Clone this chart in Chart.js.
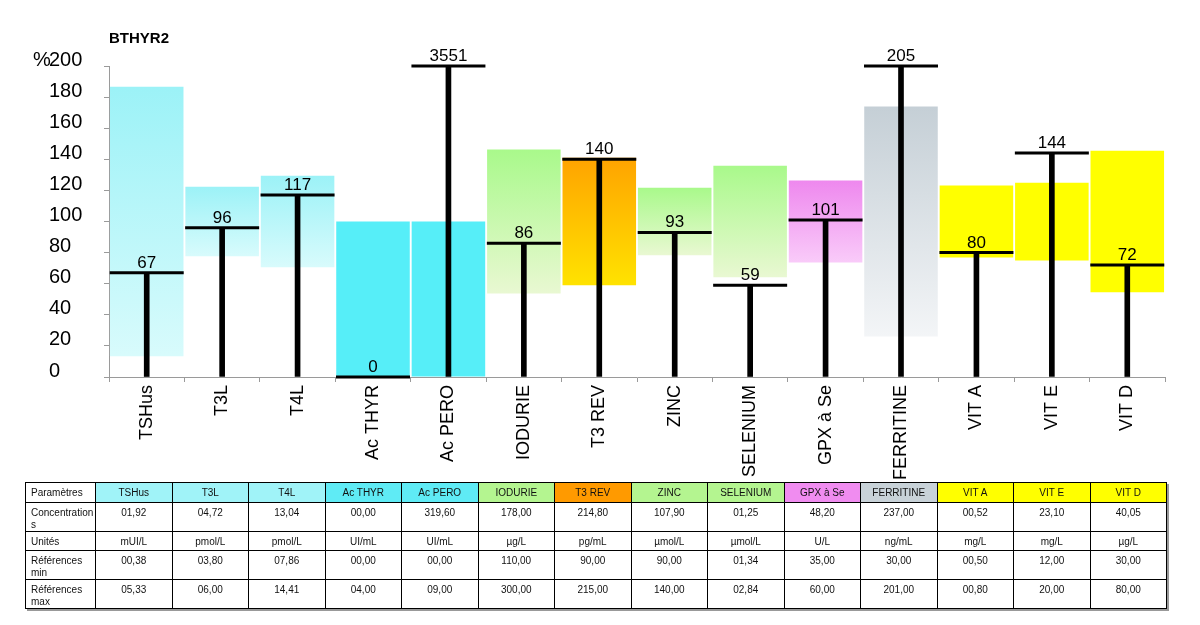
<!DOCTYPE html>
<html>
<head>
<meta charset="utf-8">
<script src="https://cdn.jsdelivr.net/npm/chart.js@4.4.1/dist/chart.umd.min.js"></script>
<style>
  html, body { margin: 0; padding: 0; background: #fff; width: 1200px; height: 625px; overflow: hidden; }
  #wrap { position: absolute; left: 0; top: 0; width: 1200px; height: 490px; }
  #tbl { position: absolute; left: 25px; top: 482px; border-collapse: collapse; table-layout: fixed;
         font-family: "Liberation Sans", Arial, sans-serif; font-size: 10px; color: #111;
         box-shadow: 2px 2px 0 #999; background: #fff; }
  #tbl td { border: 1px solid #000; text-align: center; vertical-align: top; padding: 4px 2px 0 2px;
            line-height: 12px; box-sizing: border-box; overflow: hidden; }
  #tbl td.first { text-align: left; padding-left: 5px; padding-right: 1px; }
  #tbl td.brk { word-break: break-all; }
  #tbl tr.h td { vertical-align: middle; padding-top: 0; }
</style>
</head>
<body>
<div id="wrap"><canvas id="c" width="1200" height="490"></canvas></div>
<table id="tbl"></table>
<script>
// ---- data ----
const categories = ['TSHus','T3L','T4L','Ac THYR','Ac PERO','IODURIE','T3 REV','ZINC','SELENIUM','GPX à Se','FERRITINE','VIT A','VIT E','VIT D'];
const percentValues = [67, 96, 117, 0, 3551, 86, 140, 93, 59, 101, 205, 80, 144, 72];
const rangeMin = [13.3, 77.6, 70.6, 0, 0, 53.7, 59.0, 78.3, 64.1, 73.7, 26.0, 76.9, 75.0, 54.5];
const rangeMax = [186.7, 122.4, 129.4, 100, 100, 146.3, 141.0, 121.7, 135.9, 126.3, 174.0, 123.1, 125.0, 145.5];
const yMin = 0, yMax = 200, yStep = 20;

const rowLabels = ['Paramètres', 'Concentrations', 'Unités', 'Références min', 'Références max'];
const concentrations = ['01,92','04,72','13,04','00,00','319,60','178,00','214,80','107,90','01,25','48,20','237,00','00,52','23,10','40,05'];
const units = ['mUI/L','pmol/L','pmol/L','UI/mL','UI/mL','µg/L','pg/mL','µmol/L','µmol/L','U/L','ng/mL','mg/L','mg/L','µg/L'];
const refMin = ['00,38','03,80','07,86','00,00','00,00','110,00','90,00','90,00','01,34','35,00','30,00','00,50','12,00','30,00'];
const refMax = ['05,33','06,00','14,41','04,00','09,00','300,00','215,00','140,00','02,84','60,00','201,00','00,80','20,00','80,00'];

// ---- styles ----
const barTop    = ['#9cf2f7','#9cf2f7','#9cf2f7','#56eef8','#56eef8','#a9f98b','#ffa300','#a9f98b','#a9f98b','#ee88ee','#c5cfd6','#ffff00','#ffff00','#ffff00'];
const barBottom = ['#d8fbfc','#d8fbfc','#d8fbfc','#56eef8','#56eef8','#e9f8d2','#ffe300','#e9f8d2','#e9f8d2','#f9cbf9','#f3f5f7','#ffff00','#ffff00','#ffff00'];
const headColors = ['#a0f3f8','#a0f3f8','#a0f3f8','#5febf5','#5febf5','#b4f590','#ff9a00','#b4f590','#b4f590','#f08cf0','#c8d2d8','#ffff00','#ffff00','#ffff00'];

const shown = percentValues.map(v => Math.min(v, yMax));
const FONT = '"Liberation Sans", Arial, sans-serif';

const labelPlugin = {
  id: 'valueLabels',
  afterDatasetsDraw(chart) {
    const ctx = chart.ctx, xs = chart.scales.x, ys = chart.scales.y;
    ctx.save();
    ctx.fillStyle = '#000';
    ctx.font = '17px ' + FONT;
    ctx.textAlign = 'center';
    ctx.textBaseline = 'alphabetic';
    percentValues.forEach((v, i) => {
      ctx.fillText(String(v), xs.getPixelForValue(i), ys.getPixelForValue(shown[i]) - 5);
    });
    ctx.font = '20px ' + FONT;
    ctx.textAlign = 'left';
    ctx.textBaseline = 'middle';
    ctx.fillText('%', 33, ys.getPixelForValue(yMax) - 6);
    ctx.restore();
  }
};

new Chart(document.getElementById('c'), {
  type: 'bar',
  data: {
    labels: categories,
    datasets: [
      {
        label: 'range',
        data: rangeMin.map((m, i) => [m, rangeMax[i]]),
        grouped: false,
        categoryPercentage: 1,
        barPercentage: 0.975,
        order: 3,
        borderWidth: 0,
        backgroundColor: (c) => {
          const chart = c.chart, i = c.dataIndex;
          if (i === undefined) return barTop[0];
          const ys = chart.scales.y;
          if (!chart.chartArea || !ys) return barTop[i];
          const y0 = ys.getPixelForValue(rangeMax[i]), y1 = ys.getPixelForValue(rangeMin[i]);
          if (!isFinite(y0) || !isFinite(y1) || y0 === y1) return barTop[i];
          const g = chart.ctx.createLinearGradient(0, y0, 0, y1);
          g.addColorStop(0, barTop[i]);
          g.addColorStop(1, barBottom[i]);
          return g;
        }
      },
      {
        label: 'stem',
        data: shown,
        grouped: false,
        barThickness: 5,
        backgroundColor: '#000',
        order: 2
      },
      {
        type: 'line',
        label: 'cap',
        data: shown,
        showLine: false,
        pointStyle: 'line',
        pointRadius: 37,
        pointHoverRadius: 37,
        pointBorderWidth: 3,
        borderColor: '#000',
        backgroundColor: '#000',
        clip: false,
        order: 1
      }
    ]
  },
  options: {
    responsive: false,
    animation: false,
    layout: { autoPadding: false, padding: { top: 30, right: 35, left: 49, bottom: 0 } },
    plugins: {
      legend: { display: false },
      tooltip: { enabled: false },
      title: {
        display: true, text: 'BTHYR2', align: 'start', fullSize: false, color: '#000',
        font: { family: FONT, size: 15, weight: 'bold' },
        padding: { top: 0, bottom: 18 }
      }
    },
    scales: {
      x: {
        offset: true,
        grid: { display: true, drawOnChartArea: false, offset: true, tickLength: 5, color: '#9a9a9a' },
        border: { color: '#9a9a9a' },
        ticks: { maxRotation: 90, minRotation: 90, padding: 3, color: '#000', font: { family: FONT, size: 18 } },
        afterFit: (s) => { s.height = 113; s.paddingLeft = 0; s.paddingRight = 0; }
      },
      y: {
        min: yMin, max: yMax,
        grid: { display: true, drawOnChartArea: false, tickLength: 5, color: '#9a9a9a' },
        border: { color: '#9a9a9a' },
        ticks: { stepSize: yStep, padding: 22, crossAlign: 'far', labelOffset: -6, color: '#000', font: { family: FONT, size: 20 } },
        afterFit: (s) => { s.width = 60; }
      }
    }
  },
  plugins: [labelPlugin]
});

// ---- table ----
(function buildTable() {
  const t = document.getElementById('tbl');
  const cg = document.createElement('colgroup');
  const c0 = document.createElement('col'); c0.style.width = '70px'; cg.appendChild(c0);
  categories.forEach(() => { const c = document.createElement('col'); c.style.width = '76.5px'; cg.appendChild(c); });
  t.appendChild(cg);
  const rows = [categories, concentrations, units, refMin, refMax];
  const heights = [20, 28, 19, 29, 29];
  rows.forEach((r, ri) => {
    const tr = document.createElement('tr');
    if (ri === 0) tr.className = 'h';
    tr.style.height = heights[ri] + 'px';
    const th = document.createElement('td');
    th.className = ri === 1 ? 'first brk' : 'first';
    th.textContent = rowLabels[ri];
    tr.appendChild(th);
    r.forEach((v, ci) => {
      const td = document.createElement('td');
      td.textContent = v;
      if (ri === 0) td.style.background = headColors[ci];
      tr.appendChild(td);
    });
    t.appendChild(tr);
  });
})();
</script>
</body>
</html>
